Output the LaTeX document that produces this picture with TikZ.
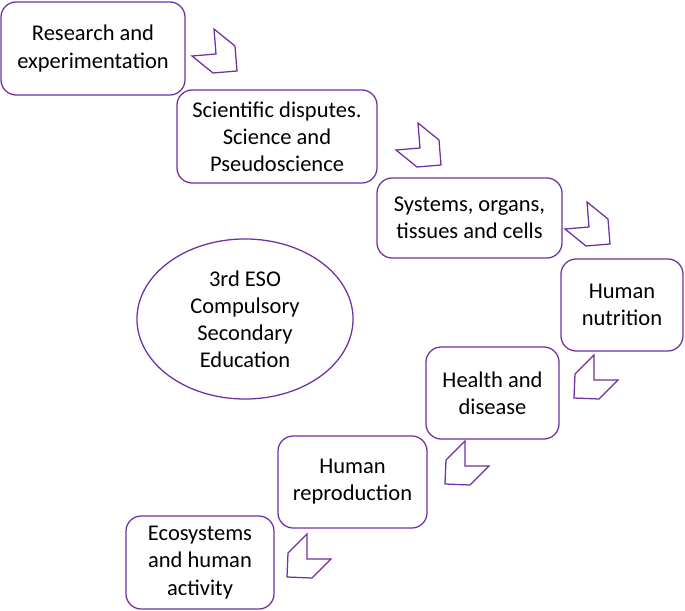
\documentclass[tikz,border=0pt]{standalone}
\usepackage{fontspec}
\setmainfont{Carlito}
\usetikzlibrary{shapes.geometric}
\usetikzlibrary{positioning}

\definecolor{esopurple}{RGB}{112,48,160}

\tikzset{
    topicbox/.style={draw=esopurple, line width=0.9pt, rounded corners=0.38cm,
        fill=white, align=center, inner sep=0pt,
        font=\fontsize{16}{19.3}\selectfont},
    chevline/.style={draw=esopurple, line width=0.9pt, line join=miter},
    % chevron pointing down-right
    chevdr/.pic={
        \draw[chevline] (0,0) -- (21,17) -- (23,42) -- (-1,44) -- (-22,27) -- (2,25) -- cycle;
    },
    % chevron pointing down-left
    chevdl/.pic={
        \draw[chevline] (0,0) -- (0,25) -- (24,25) -- (5,44) -- (-20,43) -- (-19,19) -- cycle;
    }
}

\begin{document}
\begin{tikzpicture}[x=0.025cm, y=-0.025cm]
        \useasboundingbox (0,0) rectangle (685,611);

        % topics, top to bottom
        \node[topicbox, minimum width=4.6cm, minimum height=2.325cm] (research) at (93,48.5)
            {Research and\\experimentation};
        \node[topicbox, minimum width=5.0cm, minimum height=2.325cm] (disputes) at (277,136.5)
            {Scientific disputes.\\Science and\\Pseudoscience};
        \node[topicbox, minimum width=4.625cm, minimum height=2.0cm] (systems) at (469.5,218)
            {Systems, organs,\\tissues and cells};
        \node[topicbox, minimum width=3.05cm, minimum height=2.3cm] (nutrition) at (622,305)
            {Human\\nutrition};
        \node[topicbox, minimum width=3.325cm, minimum height=2.3cm] (health) at (492.5,393)
            {Health and\\disease};
        \node[topicbox, minimum width=3.725cm, minimum height=2.3cm] (reproduction) at (352.5,482)
            {Human\\reproduction};
        \node[topicbox, minimum width=3.7cm, minimum height=2.325cm] (ecosystems) at (200,562.5)
            {Ecosystems\\and human\\activity};

        % course
        \node[topicbox, ellipse, minimum width=5.4cm, minimum height=4.0cm] (course) at (245,319)
            {3rd ESO\\Compulsory\\Secondary\\Education};

        % chevrons between the topics
        \pic at (214,29) {chevdr};
        \pic at (418,123) {chevdr};
        \pic at (587,202) {chevdr};
        \pic at (594,355) {chevdl};
        \pic at (465,441) {chevdl};
        \pic at (307,534) {chevdl};

    \end{tikzpicture}
\end{document}
